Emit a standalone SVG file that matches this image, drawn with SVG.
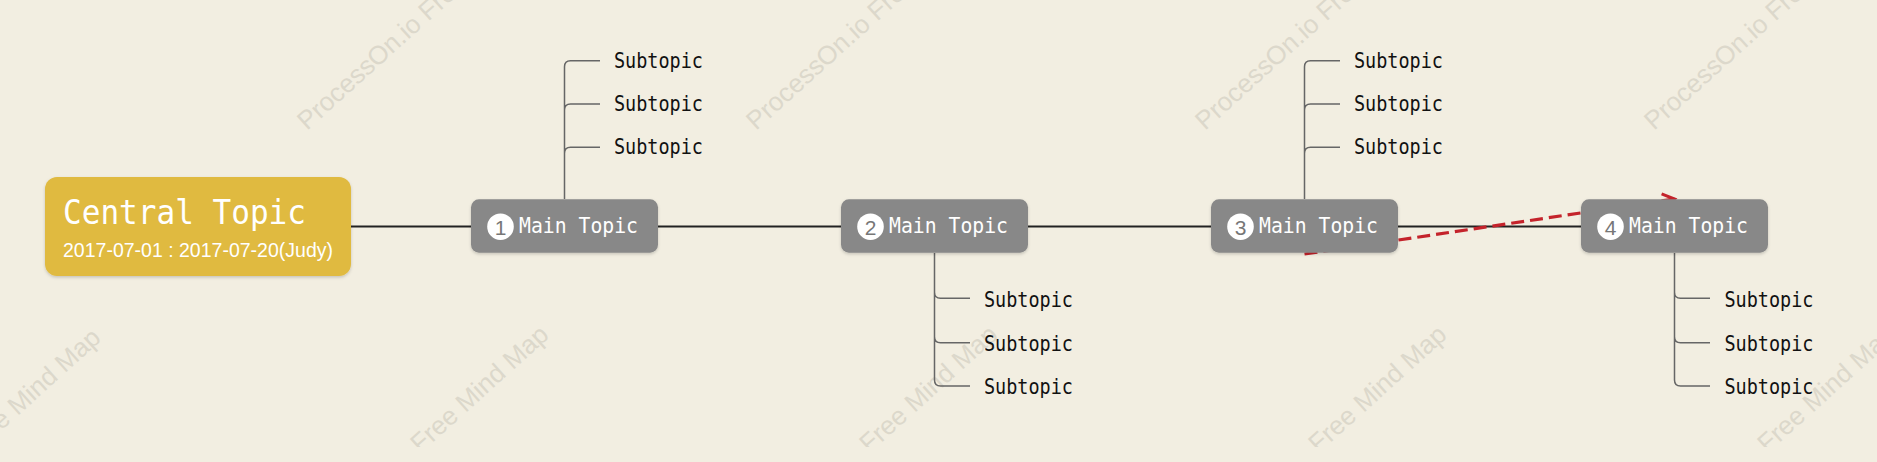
<svg xmlns="http://www.w3.org/2000/svg" width="1877" height="462" viewBox="0 0 1877 462">
<style>
.wm{font-family:"Liberation Sans",Arial,sans-serif;font-size:26px;fill:#DCD8CB}
.main-line{stroke:#222;stroke-width:2;fill:none}
.sub-line{stroke:#666;stroke-width:1.5;fill:none}
.rel{stroke:#C4232B;stroke-width:3.2;fill:none;stroke-dasharray:13 6}
.mbox{fill:#888888}
.num-c{fill:#FFFFFF}
.num{font-family:"Liberation Sans",Arial,sans-serif;font-size:21px;fill:#777777;text-anchor:middle}
.mtxt{font-family:"DejaVu Sans Mono","Liberation Mono",monospace;font-size:21px;fill:#FFFFFF}
.stxt{font-family:"DejaVu Sans Mono","Liberation Mono",monospace;font-size:21.5px;fill:#111}
.ctxt{font-family:"DejaVu Sans Mono","Liberation Mono",monospace;font-size:34px;fill:#FFFFFF}
.dtxt{font-family:"Liberation Sans",Arial,sans-serif;font-size:19.5px;fill:#FFFFFF}
</style>
<defs>
<filter id="sh" x="-10%" y="-20%" width="120%" height="150%">
<feDropShadow dx="0" dy="1.5" stdDeviation="1.5" flood-color="#000" flood-opacity="0.18"/>
</filter>
<marker id="arr" markerUnits="userSpaceOnUse" markerWidth="20" markerHeight="20" refX="0" refY="0" viewBox="-14 -10 16 20" orient="auto">
<path d="M-12,-7 L0,0 L-12,7" fill="none" stroke="#C4232B" stroke-width="3"/>
</marker>
<clipPath id="wmclip">
<rect x="-10" y="300" width="1900" height="147"/>
</clipPath>
</defs>
<rect x="0" y="0" width="1877" height="462" fill="#F2EEE1"/>
<g id="watermarks">
<text class="wm" transform="translate(307,131) rotate(-42)">ProcessOn.io Free Mind Map</text>
<text class="wm" transform="translate(756,131) rotate(-42)">ProcessOn.io Free Mind Map</text>
<text class="wm" transform="translate(1205,131) rotate(-42)">ProcessOn.io Free Mind Map</text>
<text class="wm" transform="translate(1654,131) rotate(-42)">ProcessOn.io Free Mind Map</text>
<g clip-path="url(#wmclip)">
<text class="wm" transform="translate(-149,566) rotate(-42)">ProcessOn.io Free Mind Map</text>
<text class="wm" transform="translate(299,563) rotate(-42)">ProcessOn.io Free Mind Map</text>
<text class="wm" transform="translate(748,563) rotate(-42)">ProcessOn.io Free Mind Map</text>
<text class="wm" transform="translate(1197,563) rotate(-42)">ProcessOn.io Free Mind Map</text>
<text class="wm" transform="translate(1646,563) rotate(-42)">ProcessOn.io Free Mind Map</text>
</g>
</g>
<g id="connectors">
<path class="main-line" d="M350,226.5 H1582"/>
<path class="sub-line" d="M564.5,199 V66.7 Q564.5,60.7 570.5,60.7 H600 M564.5,199 V110 Q564.5,104 570.5,104 H600 M564.5,199 V153.3 Q564.5,147.3 570.5,147.3 H600"/>
<path class="sub-line" d="M934.5,253 V292.3 Q934.5,298.3 940.5,298.3 H970 M934.5,253 V336.7 Q934.5,342.7 940.5,342.7 H970 M934.5,253 V380 Q934.5,386 940.5,386 H970"/>
<path class="sub-line" d="M1304.5,199 V66.7 Q1304.5,60.7 1310.5,60.7 H1340 M1304.5,199 V110 Q1304.5,104 1310.5,104 H1340 M1304.5,199 V153.3 Q1304.5,147.3 1310.5,147.3 H1340"/>
<path class="sub-line" d="M1674.5,253 V292.3 Q1674.5,298.3 1680.5,298.3 H1710 M1674.5,253 V336.7 Q1674.5,342.7 1680.5,342.7 H1710 M1674.5,253 V380 Q1674.5,386 1680.5,386 H1710"/>
<path class="rel" d="M1304.5,254 L1674.5,199" marker-end="url(#arr)"/>
</g>
<g id="central">
<rect x="45" y="177" width="306" height="99" rx="12" fill="#E0BA41" filter="url(#sh)"/>
<text class="ctxt" x="63" y="224" textLength="243" lengthAdjust="spacingAndGlyphs">Central Topic</text>
<text class="dtxt" x="63" y="257" textLength="270" lengthAdjust="spacingAndGlyphs">2017-07-01 : 2017-07-20(Judy)</text>
</g>
<g id="main1">
<rect class="mbox" x="471" y="199.3" width="187" height="53.4" rx="8" filter="url(#sh)"/>
<circle class="num-c" cx="500.5" cy="226.7" r="13.3"/>
<text class="num" x="500.5" y="234.5">1</text>
<text class="mtxt" x="519" y="233.3" textLength="119" lengthAdjust="spacingAndGlyphs">Main Topic</text>
</g>
<g id="main2">
<rect class="mbox" x="841" y="199.3" width="187" height="53.4" rx="8" filter="url(#sh)"/>
<circle class="num-c" cx="870.5" cy="226.7" r="13.3"/>
<text class="num" x="870.5" y="234.5">2</text>
<text class="mtxt" x="889" y="233.3" textLength="119" lengthAdjust="spacingAndGlyphs">Main Topic</text>
</g>
<g id="main3">
<rect class="mbox" x="1211" y="199.3" width="187" height="53.4" rx="8" filter="url(#sh)"/>
<circle class="num-c" cx="1240.5" cy="226.7" r="13.3"/>
<text class="num" x="1240.5" y="234.5">3</text>
<text class="mtxt" x="1259" y="233.3" textLength="119" lengthAdjust="spacingAndGlyphs">Main Topic</text>
</g>
<g id="main4">
<rect class="mbox" x="1581" y="199.3" width="187" height="53.4" rx="8" filter="url(#sh)"/>
<circle class="num-c" cx="1610.5" cy="226.7" r="13.3"/>
<text class="num" x="1610.5" y="234.5">4</text>
<text class="mtxt" x="1629" y="233.3" textLength="119" lengthAdjust="spacingAndGlyphs">Main Topic</text>
</g>
<g id="sub1-1"><text class="stxt" x="614" y="67.5" textLength="89" lengthAdjust="spacingAndGlyphs">Subtopic</text></g>
<g id="sub1-2"><text class="stxt" x="614" y="110.8" textLength="89" lengthAdjust="spacingAndGlyphs">Subtopic</text></g>
<g id="sub1-3"><text class="stxt" x="614" y="154.1" textLength="89" lengthAdjust="spacingAndGlyphs">Subtopic</text></g>
<g id="sub2-1"><text class="stxt" x="984" y="306.5" textLength="89" lengthAdjust="spacingAndGlyphs">Subtopic</text></g>
<g id="sub2-2"><text class="stxt" x="984" y="350.9" textLength="89" lengthAdjust="spacingAndGlyphs">Subtopic</text></g>
<g id="sub2-3"><text class="stxt" x="984" y="394.2" textLength="89" lengthAdjust="spacingAndGlyphs">Subtopic</text></g>
<g id="sub3-1"><text class="stxt" x="1354" y="67.5" textLength="89" lengthAdjust="spacingAndGlyphs">Subtopic</text></g>
<g id="sub3-2"><text class="stxt" x="1354" y="110.8" textLength="89" lengthAdjust="spacingAndGlyphs">Subtopic</text></g>
<g id="sub3-3"><text class="stxt" x="1354" y="154.1" textLength="89" lengthAdjust="spacingAndGlyphs">Subtopic</text></g>
<g id="sub4-1"><text class="stxt" x="1724.5" y="306.5" textLength="89" lengthAdjust="spacingAndGlyphs">Subtopic</text></g>
<g id="sub4-2"><text class="stxt" x="1724.5" y="350.9" textLength="89" lengthAdjust="spacingAndGlyphs">Subtopic</text></g>
<g id="sub4-3"><text class="stxt" x="1724.5" y="394.2" textLength="89" lengthAdjust="spacingAndGlyphs">Subtopic</text></g>
</svg>
